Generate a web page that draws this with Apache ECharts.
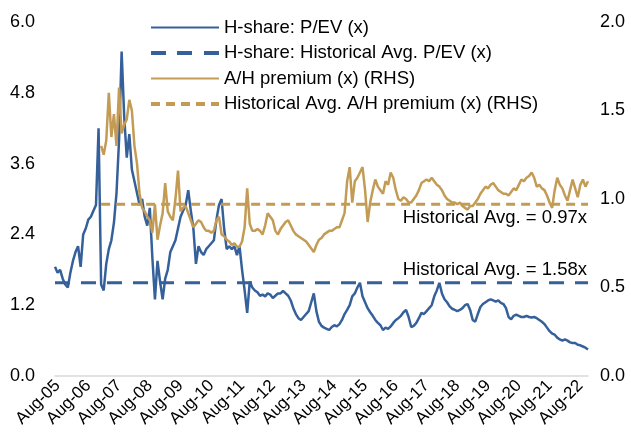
<!DOCTYPE html>
<html>
<head>
<meta charset="utf-8">
<script src="https://cdn.jsdelivr.net/npm/echarts@6/dist/echarts.min.js"></script>
<style>
  html, body { margin: 0; padding: 0; background: #fff; }
  #chart { width: 631px; height: 443px; }
</style>
</head>
<body>
<div id="chart"></div>
<script>
// Monthly observations, Jul-05 .. Nov-22
const startYear = 2005, startMonth = 6; // July
const monthNames = ['Jan', 'Feb', 'Mar', 'Apr', 'May', 'Jun', 'Jul', 'Aug', 'Sep', 'Oct', 'Nov', 'Dec'];

// H-share P/EV (x), left axis
const peValues = [
  1.85, 1.75, 1.8, 1.65, 1.55, 1.5, 1.75, 1.95, 2.1, 2.2, 1.85, 2.4,
  2.5, 2.65, 2.7, 2.8, 2.9, 4.2, 1.55, 1.45, 1.9, 2.15, 2.3, 2.6,
  3.1, 4.0, 5.5, 4.4, 3.7, 4.1, 3.5, 3.3, 3.1, 2.9, 3.0, 2.7,
  2.55, 2.85, 2.0, 1.3, 1.95, 1.6, 1.3, 1.65, 1.8, 2.1, 2.2, 2.3,
  2.5, 2.7, 2.8, 2.9, 3.15, 2.8, 2.5, 1.9, 2.2, 2.1, 2.05, 2.15,
  2.2, 2.25, 2.3, 2.65, 2.9, 3.0, 2.5, 2.15, 2.2, 2.15, 2.2, 2.05,
  2.2, 1.8, 1.45, 1.07, 1.6, 1.5, 1.45, 1.42, 1.36, 1.38, 1.35, 1.4,
  1.38, 1.32, 1.36, 1.4, 1.4, 1.44, 1.4, 1.36, 1.28, 1.15, 1.05, 0.98,
  0.95, 1.0, 1.05, 1.1, 1.25, 1.4, 1.1, 0.92, 0.85, 0.82, 0.8, 0.78,
  0.83, 0.86, 0.84, 0.88, 0.95, 1.05, 1.12, 1.2, 1.35, 1.4, 1.5, 1.58,
  1.35, 1.25, 1.15, 1.08, 1.02, 0.95, 0.9, 0.86, 0.78, 0.82, 0.8, 0.84,
  0.9, 0.95, 0.98, 1.02, 1.08, 1.12, 1.0, 0.83, 0.85, 0.9, 0.98, 1.07,
  1.05, 1.1, 1.15, 1.2, 1.35, 1.45, 1.58, 1.4, 1.3, 1.25, 1.18, 1.14,
  1.12, 1.1, 1.12, 1.15, 1.2, 1.22, 1.12, 0.95, 0.92, 1.05, 1.17, 1.22,
  1.25, 1.28, 1.3, 1.28, 1.26, 1.28, 1.24, 1.22, 1.15, 1.0, 0.96, 1.02,
  1.04, 1.02, 1.0, 1.0, 1.02, 1.0, 0.99, 1.0, 0.98, 0.95, 0.92, 0.88,
  0.82, 0.76, 0.72, 0.7, 0.65, 0.62, 0.6, 0.62, 0.6, 0.57, 0.56, 0.56,
  0.53, 0.52, 0.5, 0.48, 0.45
];

// A/H premium (x), right axis (series starts Jan-07)
const ahValues = [
  null, null, null, null, null, null, null, null, null, null, null, null,
  null, null, null, null, null, null, 1.3, 1.25, 1.33, 1.6, 1.35, 1.48,
  1.3, 1.63, 1.37, 1.42, 1.45, 1.56, 1.5, 1.3, 1.2, 1.03, 0.95, 0.93,
  0.9, 0.88, 0.81, 0.97, 0.77, 0.85, 0.92, 1.09, 0.93, 0.9, 0.88, 1.0,
  1.16, 0.93, 0.95, 0.96, 0.92, 0.88, 0.84, 0.86, 0.88, 0.87, 0.84, 0.82,
  0.82, 0.81, 0.82, 0.88, 0.9, 0.8, 0.79, 0.77, 0.76, 0.74, 0.75, 0.73,
  0.73, 0.76, 0.84, 1.06, 0.86, 0.82, 0.82, 0.83, 0.82, 0.8, 0.85, 0.92,
  0.9, 0.88, 0.82, 0.8, 0.83, 0.85, 0.87, 0.88, 0.85, 0.82, 0.8, 0.79,
  0.78, 0.77, 0.76, 0.74, 0.72, 0.7, 0.74, 0.77, 0.78, 0.8, 0.81, 0.82,
  0.82, 0.83, 0.84, 0.84, 0.88, 0.92, 1.1, 1.18, 0.98, 1.1, 1.12, 1.15,
  1.18, 1.05, 0.87, 0.98, 1.05, 1.11, 1.07, 1.05, 1.03, 1.1, 1.08, 1.15,
  1.12, 1.05, 1.0, 0.99, 1.01, 1.0, 0.98, 0.98, 1.0, 1.02, 1.05, 1.09,
  1.1, 1.11, 1.1, 1.12, 1.1, 1.08, 1.07, 1.05, 1.02, 1.0, 0.99, 0.98,
  0.98, 0.97, 0.98, 0.96, 0.95, 0.94, 0.96, 0.96, 0.98, 1.0, 1.03, 1.05,
  1.07, 1.06, 1.08, 1.09, 1.07, 1.05, 1.04, 1.03, 1.03, 1.02, 1.04, 1.06,
  1.05, 1.08, 1.11, 1.1, 1.12, 1.13, 1.15, 1.12, 1.07, 1.08, 1.06, 1.05,
  1.02, 0.98, 0.95, 1.05, 1.12, 1.08, 1.06, 1.02, 0.99, 1.05, 1.11, 1.06,
  1.01, 1.08, 1.11, 1.07, 1.1
];

const peAvg = 1.58;
const ahAvg = 0.97;

const blue = '#35609a';
const gold = '#c39b55';
const font = 'Liberation Sans, Arial, sans-serif';

// category labels like 'Aug-05'
const months = peValues.map(function (v, i) {
  const m = (startMonth + i) % 12;
  const y = startYear + Math.floor((startMonth + i) / 12);
  return monthNames[m] + '-' + String(y % 100).padStart(2, '0');
});
const firstCat = months[0];
const lastCat = months[months.length - 1];
const ahStart = months[ahValues.findIndex(function (v) { return v !== null; })];

const chart = echarts.init(document.getElementById('chart'));

const option = {
  animation: false,
  textStyle: { fontFamily: font },
  grid: { left: 55, right: 43, top: 22, bottom: 67 },
  legend: {
    orient: 'vertical',
    left: 146,
    top: 13,
    itemWidth: 68,
    itemHeight: 10,
    itemGap: 6.5,
    textStyle: { fontSize: 18.5, color: '#000', fontFamily: font },
    data: [
      { name: 'H-share: P/EV (x)', icon: 'path://M0,0 L68,0 L68,2 L0,2 Z' },
      { name: 'H-share: Historical Avg. P/EV (x)', icon: 'path://M0,0 L15,0 L15,4 L0,4 Z M26,0 L41,0 L41,4 L26,4 Z M53,0 L68,0 L68,4 L53,4 Z' },
      { name: 'A/H premium (x) (RHS)', icon: 'path://M0,0 L68,0 L68,2 L0,2 Z' },
      { name: 'Historical Avg. A/H premium (x) (RHS)', icon: 'path://M0,0 L9,0 L9,4 L0,4 Z M15,0 L24,0 L24,4 L15,4 Z M30,0 L39,0 L39,4 L30,4 Z M45,0 L54,0 L54,4 L45,4 Z M60,0 L68,0 L68,4 L60,4 Z' }
    ]
  },
  xAxis: {
    type: 'category',
    data: months,
    boundaryGap: false,
    axisLine: { lineStyle: { color: '#d9d9d9', width: 1.5 } },
    axisTick: { show: false },
    axisLabel: {
      interval: function (idx, name) { return name.indexOf('Aug') === 0; },
      rotate: 45,
      fontSize: 17,
      color: '#000',
      margin: 7
    }
  },
  yAxis: [
    {
      type: 'value',
      min: 0,
      max: 6,
      interval: 1.2,
      splitLine: { show: false },
      axisLine: { show: false },
      axisTick: { show: false },
      axisLabel: {
        fontSize: 18,
        color: '#000',
        margin: 20,
        formatter: function (v) { return v.toFixed(1); }
      }
    },
    {
      type: 'value',
      min: 0,
      max: 2,
      interval: 0.5,
      splitLine: { show: false },
      axisLine: { show: false },
      axisTick: { show: false },
      axisLabel: {
        fontSize: 18,
        color: '#000',
        margin: 12,
        formatter: function (v) { return v.toFixed(1); }
      }
    }
  ],
  series: [
    {
      name: 'H-share: P/EV (x)',
      type: 'line',
      yAxisIndex: 0,
      data: peValues,
      showSymbol: false,
      lineStyle: { color: blue, width: 2.5 },
      itemStyle: { color: blue }
    },
    {
      name: 'H-share: Historical Avg. P/EV (x)',
      type: 'line',
      yAxisIndex: 0,
      data: [[firstCat, peAvg], [lastCat, peAvg]],
      showSymbol: false,
      lineStyle: { color: blue, width: 3, type: [15, 11] },
      itemStyle: { color: blue }
    },
    {
      name: 'A/H premium (x) (RHS)',
      type: 'line',
      yAxisIndex: 1,
      data: ahValues,
      showSymbol: false,
      lineStyle: { color: gold, width: 2.5 },
      itemStyle: { color: gold }
    },
    {
      name: 'Historical Avg. A/H premium (x) (RHS)',
      type: 'line',
      yAxisIndex: 1,
      data: [[ahStart, ahAvg], [lastCat, ahAvg]],
      showSymbol: false,
      lineStyle: { color: gold, width: 3, type: [9, 6] },
      itemStyle: { color: gold }
    }
  ],
  graphic: [
    {
      type: 'text',
      right: 44,
      top: 208,
      style: { text: 'Historical Avg. = 0.97x', fontSize: 18.5, fill: '#000', fontFamily: font }
    },
    {
      type: 'text',
      right: 44,
      top: 260,
      style: { text: 'Historical Avg. = 1.58x', fontSize: 18.5, fill: '#000', fontFamily: font }
    }
  ]
};

chart.setOption(option);

window.addEventListener('resize', function () {
  chart.resize();
});
</script>
</body>
</html>
